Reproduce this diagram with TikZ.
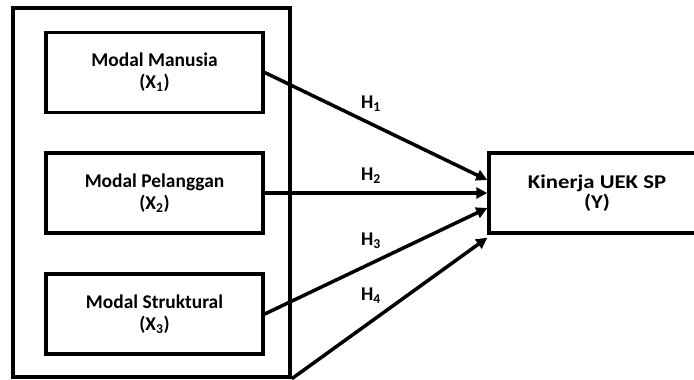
\documentclass[tikz,border=0pt]{standalone}
\usepackage{fontspec}
\setmainfont{Carlito}
\newfontfamily\widefont[FakeStretch=1.17]{Carlito}
\usetikzlibrary{arrows.meta}
\begin{document}
\begin{tikzpicture}[x=1bp,y=-1bp,
  line width=3.5bp,
  every node/.style={font=\fontsize{19.5}{22}\selectfont\bfseries, align=center},
  var/.style={draw, line width=3.5bp, minimum width=217bp, minimum height=80bp, inner sep=0pt},
  lbl/.style={inner sep=0pt},
  arr/.style={-{Triangle[length=11bp,width=11bp]}, line width=3.5bp}]
\useasboundingbox (0,0) rectangle (694,379);
\clip (0,0) rectangle (694,379);
\node[draw, line width=3.5bp, minimum width=277bp, minimum height=369bp, inner sep=0pt] (outer) at (151.5,192.5) {};
\node[var] (b1) at (154.5,72.5) {Modal Manusia\\(X\textsubscript{1})};
\node[var] (b2) at (154.5,193) {Modal Pelanggan\\(X\textsubscript{2})};
\node[var] (b3) at (154.5,314) {Modal Struktural\\(X\textsubscript{3})};
\node[draw, line width=3.5bp, minimum width=216bp, minimum height=80bp, inner sep=0pt,
  font=\fontsize{19.5}{20}\widefont\bfseries] (y) at (597,193) {Kinerja UEK SP\\(Y)};
\coordinate (e1) at ([yshift=13bp]y.west);
\coordinate (e3) at ([yshift=-15bp]y.west);
\coordinate (e4) at ([yshift=-3bp]y.south west);
\draw[arr] (b1.east) -- (e1);
\draw[arr] (b2.east) -- (y.west);
\draw[arr] (b3.east) -- (e3);
\draw[arr] (outer.south east) -- (e4);
\node[lbl] (h1) at (371,104) {H\textsubscript{1}};
\node[lbl] (h2) at (371,176) {H\textsubscript{2}};
\node[lbl] (h3) at (371,241) {H\textsubscript{3}};
\node[lbl] (h4) at (371,296) {H\textsubscript{4}};
\end{tikzpicture}
\end{document}
